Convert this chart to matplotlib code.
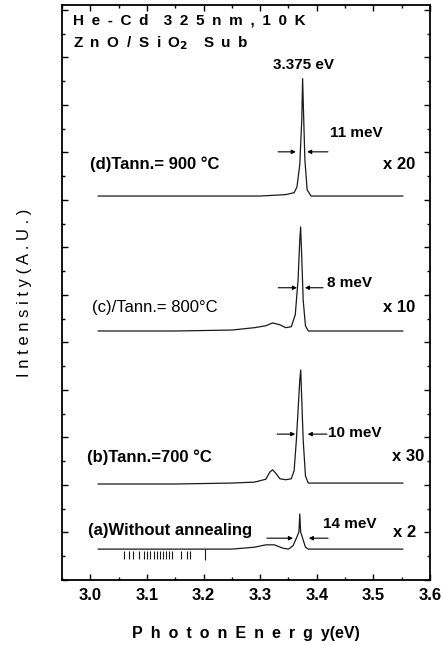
import numpy as np
import matplotlib
matplotlib.use("Agg")
from matplotlib import pyplot as plt
from matplotlib.ticker import MultipleLocator

plt.rcParams['font.family'] = ['Liberation Sans', 'DejaVu Sans']

# spectra (energy in eV, intensity in arbitrary units)
x_a = [3.014, 3.15, 3.25, 3.29, 3.31, 3.325, 3.340, 3.350, 3.358, 3.364, 3.3685, 3.370, 3.3715, 3.375, 3.380, 3.385, 3.45, 3.552]
y_a = [0.65, 0.65, 0.65, 0.69, 0.74, 0.74, 0.67, 0.65, 0.72, 0.88, 1.01, 1.39, 1.01, 0.88, 0.69, 0.65, 0.65, 0.65]

x_b = [3.014, 3.15, 3.25, 3.29, 3.31, 3.317, 3.322, 3.328, 3.335, 3.345, 3.355, 3.360, 3.364, 3.367, 3.370, 3.3717, 3.373, 3.376, 3.380, 3.385, 3.45, 3.552]
y_b = [2.02, 2.02, 2.04, 2.06, 2.12, 2.27, 2.32, 2.24, 2.13, 2.11, 2.13, 2.30, 2.95, 3.58, 4.21, 4.42, 3.96, 2.95, 2.19, 2.04, 2.04, 2.04]

x_c = [3.014, 3.15, 3.25, 3.29, 3.31, 3.322, 3.335, 3.345, 3.355, 3.362, 3.367, 3.370, 3.3715, 3.373, 3.376, 3.380, 3.385, 3.45, 3.552]
y_c = [5.24, 5.24, 5.26, 5.31, 5.35, 5.41, 5.37, 5.31, 5.33, 5.58, 6.32, 7.16, 7.43, 6.95, 5.89, 5.35, 5.24, 5.24, 5.24]

x_d = [3.014, 3.10, 3.20, 3.30, 3.345, 3.36, 3.365, 3.370, 3.3735, 3.375, 3.3765, 3.379, 3.383, 3.39, 3.42, 3.50, 3.552]
y_d = [8.08, 8.08, 8.08, 8.08, 8.11, 8.15, 8.27, 8.74, 9.68, 10.55, 9.89, 8.84, 8.21, 8.08, 8.08, 8.08, 8.08]

# little marks under trace (a)
bar_x = [3.060, 3.068, 3.076, 3.086, 3.094, 3.100, 3.106, 3.112, 3.118, 3.123, 3.128, 3.134, 3.139, 3.144, 3.160, 3.170, 3.176, 3.203]

traces = [(x_a, y_a), (x_b, y_b), (x_c, y_c), (x_d, y_d)]
labels = ["(a)Without annealing", "(b)Tann.=700 \u00b0C", "(c)/Tann.= 800\u00b0C", "(d)Tann.= 900 \u00b0C"]
label_pos = [(2.996, 1.05), (2.995, 2.59), (3.003, 5.73), (3.0, 8.74)]
factors = ["x 2", "x 30", "x 10", "x 20"]
factor_pos = [(3.535, 0.99), (3.533, 2.59), (3.517, 5.73), (3.517, 8.74)]
fwhm = ["14 meV", "10 meV", "8 meV", "11 meV"]
fwhm_pos = [(3.411, 1.18), (3.42, 3.09), (3.418, 6.25), (3.423, 9.41)]
# arrow rows: y, left tail, left tip, right tail, right tip
arrows = [(0.88, 3.312, 3.358, 3.420, 3.386),
          (3.07, 3.330, 3.362, 3.418, 3.384),
          (6.15, 3.332, 3.365, 3.411, 3.379),
          (9.01, 3.3316, 3.363, 3.4198, 3.383)]


def spaced(s, sep):
    return sep.join(list(s))


fig = plt.figure(figsize=(4.44, 6.45), dpi=100)
ax = fig.add_axes([62 / 444, 65 / 645, 368 / 444, 575 / 645])

for x, y in traces:
    ax.plot(x, y, color='#1a1a1a', lw=0.9)

ax.vlines(bar_x[:-1], 0.44, 0.61, color='#1a1a1a', lw=0.8)
ax.vlines(bar_x[-1:], 0.42, 0.65, color='#1a1a1a', lw=0.8)

for i in range(4):
    weight = 'normal' if i == 2 else 'bold'
    ax.text(label_pos[i][0], label_pos[i][1], labels[i], fontsize=12, fontweight=weight, va='center', ha='left')
    ax.text(factor_pos[i][0], factor_pos[i][1], factors[i], fontsize=12, fontweight='bold', va='center', ha='left')
    ax.text(fwhm_pos[i][0], fwhm_pos[i][1], fwhm[i], fontsize=11, fontweight='bold', va='center', ha='left')
    yy, lt, lp, rt, rp = arrows[i]
    ax.annotate('', xy=(lp, yy), xytext=(lt, yy),
                arrowprops=dict(arrowstyle='-|>', lw=0.8, color='black', mutation_scale=6, shrinkA=0, shrinkB=0))
    ax.annotate('', xy=(rp, yy), xytext=(rt, yy),
                arrowprops=dict(arrowstyle='-|>', lw=0.8, color='black', mutation_scale=6, shrinkA=0, shrinkB=0))

ax.text(3.377, 10.84, "3.375 eV", fontsize=11, fontweight='bold', ha='center', va='center')

ax.text(0.03, 0.973, spaced("He-Cd", "\u2002") + "\u2002\u2002" + spaced("325nm,10K", "\u2002"),
        transform=ax.transAxes, fontsize=11, fontweight='bold', ha='left', va='center')
ax.text(0.03, 0.933, "Z\u2002n\u2002O\u2002/\u2002S\u2002i\u2002O$_\\mathbf{2}$\u2002\u2002S\u2002u\u2002b",
        transform=ax.transAxes, fontsize=11, fontweight='bold', ha='left', va='center')

ax.set_xlim(2.95, 3.6)
ax.set_ylim(0, 12.1)
ax.xaxis.set_major_locator(MultipleLocator(0.1))
ax.xaxis.set_minor_locator(MultipleLocator(0.05))
ax.yaxis.set_major_locator(MultipleLocator(1))
ax.yaxis.set_minor_locator(MultipleLocator(0.5))
ax.tick_params(which='both', direction='in', top=True, right=True, width=1.0)
ax.tick_params(which='major', length=4)
ax.tick_params(which='minor', length=2.5)
ax.tick_params(axis='x', which='major', labelsize=12, pad=6)
ax.set_yticklabels([])
ax.set_xticklabels(["%.1f" % v for v in ax.get_xticks()], fontweight='bold')
ax.set_xlim(2.95, 3.6)
for sp in ax.spines.values():
    sp.set_linewidth(1.3)

ax.set_xlabel(spaced("PhotonEnergy", "\u2002") + "(eV)", fontsize=11.5, fontweight='bold', labelpad=16)
ax.set_ylabel(spaced("Intensity(A.U.)", " "), fontsize=12, labelpad=18)

fig.savefig("out.png", dpi=100)
